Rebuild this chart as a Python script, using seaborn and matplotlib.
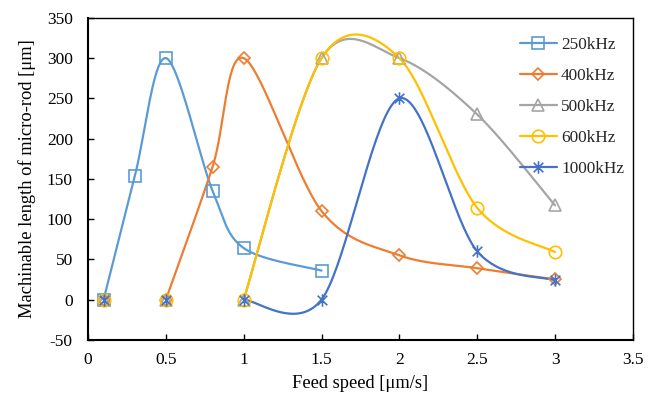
import numpy as np
import pandas as pd
import matplotlib
matplotlib.use("Agg")
import matplotlib.pyplot as plt
from matplotlib.path import Path
from matplotlib.lines import Line2D
import seaborn as sns

sns.set_theme(style="white")
plt.rcParams["font.family"] = ["Liberation Serif", "DejaVu Serif"]
plt.rcParams["axes.unicode_minus"] = False

# Feed speed [um/s] and machinable length [um] per laser frequency
series_names = ["250kHz", "400kHz", "500kHz", "600kHz", "1000kHz"]
x_250 = [0.1, 0.3, 0.5, 0.8, 1.0, 1.5]
y_250 = [0, 153, 300, 135, 64, 36]
x_400 = [0.1, 0.5, 0.8, 1.0, 1.5, 2.0, 2.5, 3.0]
y_400 = [0, 0, 165, 300, 110, 55, 39, 25]
x_500 = [0.1, 0.5, 1.0, 1.5, 2.0, 2.5, 3.0]
y_500 = [0, 0, 0, 300, 300, 230, 117]
x_600 = [0.1, 0.5, 1.0, 1.5, 2.0, 2.5, 3.0]
y_600 = [0, 0, 0, 300, 300, 114, 59]
x_1000 = [0.1, 0.5, 1.0, 1.5, 2.0, 2.5, 3.0]
y_1000 = [0, 0, 0, 0, 250, 60, 24]
# index where each smoothed curve begins (earlier zero points are markers only)
curve_start = [0, 1, 2, 2, 2]

colors = ["#5B9BD5", "#ED7D31", "#A5A5A5", "#FFC000", "#4472C4"]

# asterisk marker: X plus vertical bar
star = Path(
    [(-1, -1), (1, 1), (-1, 1), (1, -1), (0, -1.3), (0, 1.3)],
    [Path.MOVETO, Path.LINETO, Path.MOVETO, Path.LINETO, Path.MOVETO, Path.LINETO],
)
markers = ["s", "D", "^", "o", star]
msizes = [8, 6.5, 8, 9, 9]

xs = [x_250, x_400, x_500, x_600, x_1000]
ys = [y_250, y_400, y_500, y_600, y_1000]


def smooth(px, py, n=40, k=6.3):
    """Bezier smoothing through the given points (Catmull-Rom tangents)."""
    P = np.column_stack([np.asarray(px, float), np.asarray(py, float)])
    out = [P[0]]
    for i in range(len(P) - 1):
        p0 = P[i - 1] if i > 0 else P[i]
        p1 = P[i]
        p2 = P[i + 1]
        p3 = P[i + 2] if i + 2 < len(P) else P[i + 1]
        c1 = p1 + (p2 - p0) / k
        c2 = p2 - (p3 - p1) / k
        t = np.linspace(0, 1, n)[1:, None]
        b = ((1 - t) ** 3) * p1 + 3 * ((1 - t) ** 2) * t * c1 + 3 * (1 - t) * t ** 2 * c2 + t ** 3 * p2
        out.extend(b)
    out = np.array(out)
    return out[:, 0], out[:, 1]


fig, ax = plt.subplots(figsize=(6.62, 3.97), dpi=100)
fig.subplots_adjust(left=0.133, right=0.956, top=0.955, bottom=0.144)

handles = []
for name, x, y, s, c, m, ms in zip(series_names, xs, ys, curve_start, colors, markers, msizes):
    sx, sy = smooth(x[s:], y[s:])
    curve = pd.DataFrame({"x": sx, "y": sy})
    sns.lineplot(data=curve, x="x", y="y", ax=ax, color=c, lw=1.6, sort=False,
                 estimator=None, zorder=2)
    pts = pd.DataFrame({"x": x, "y": y})
    mkw = dict(markerfacecolor="none", markeredgecolor=c, markeredgewidth=1.2)
    ax.plot(pts["x"], pts["y"], ls="none", marker=m, markersize=ms, zorder=3, **mkw)
    handles.append(Line2D([0], [0], color=c, lw=1.6, marker=m, markersize=ms, **mkw))

ax.set_xlim(0, 3.5)
ax.set_ylim(-50, 350)
ax.set_xticks(np.arange(0, 3.51, 0.5))
ax.set_xticklabels(["0", "0.5", "1", "1.5", "2", "2.5", "3", "3.5"])
ax.set_yticks(np.arange(-50, 351, 50))
ax.set_xlabel("Feed speed [μm/s]", fontsize=13.3, color="black", labelpad=5)
ax.set_ylabel("Machinable length of micro-rod [μm]", fontsize=13.3, color="black", labelpad=8)

for side in ["left", "bottom"]:
    ax.spines[side].set_color("black")
    ax.spines[side].set_linewidth(1.5)
for side in ["top", "right"]:
    ax.spines[side].set_color("black")
    ax.spines[side].set_linewidth(1.0)
ax.tick_params(axis="both", which="both", direction="in", length=4, width=1.0,
               colors="black", labelsize=12.5, bottom=True, left=True)
ax.tick_params(axis="x", pad=9)
ax.tick_params(axis="y", pad=11)

leg = ax.legend(handles, series_names, loc="upper right", frameon=False, fontsize=12.4,
                handlelength=2.15, handletextpad=0.25, labelspacing=0.86,
                borderaxespad=0.3, bbox_to_anchor=(1.006, 0.977))

fig.savefig("out.png", dpi=100)
